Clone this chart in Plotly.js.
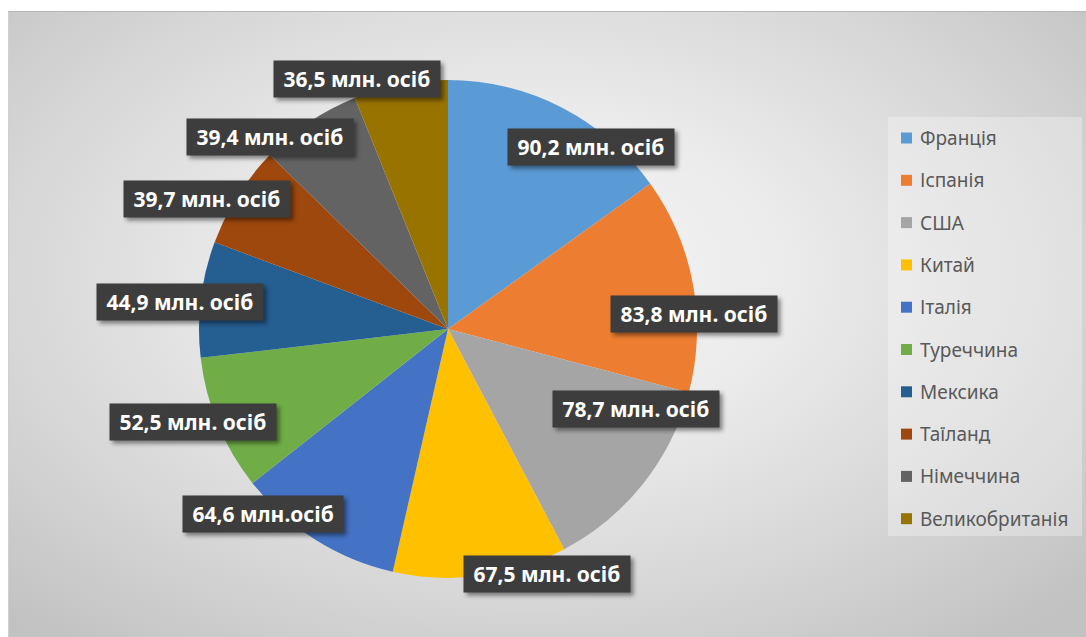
<!DOCTYPE html>
<html>
<head>
<meta charset="utf-8">
<script src="https://cdn.plot.ly/plotly-3.0.1.min.js"></script>
<style>
  html, body { margin: 0; padding: 0; background: #ffffff; }
  #wrap { position: relative; width: 1086px; height: 637px; overflow: hidden; }
  #bg {
    position: absolute; left: 8px; top: 11px; width: 1078px; height: 626px;
    background: radial-gradient(ellipse 70% 75% at 48% 42%, #f6f6f6 0%, #ebebeb 35%, #d6d6d6 70%, #c2c2c2 100%);
    border-top: 1px solid #b8b8b8; border-left: 1px solid #d0d0d0;
  }
  #chart { position: absolute; left: 0; top: 0; width: 1086px; height: 637px; }
  .annotation-text-g rect.bg { filter: drop-shadow(3px 3px 2px rgba(0,0,0,0.45)); }
</style>
</head>
<body>
<div id="wrap">
  <div id="bg"></div>
  <div id="chart"></div>
</div>
<script>
// ---- data ----
const categories = ['Франція', 'Іспанія', 'США', 'Китай', 'Італія', 'Туреччина', 'Мексика', 'Таїланд', 'Німеччина', 'Великобританія'];
const visitors = [90.2, 83.8, 78.7, 67.5, 64.6, 52.5, 44.9, 39.7, 39.4, 36.5];
const valueLabels = ['90,2 млн. осіб', '83,8 млн. осіб', '78,7 млн. осіб', '67,5 млн. осіб', '64,6 млн.осіб', '52,5 млн. осіб', '44,9 млн. осіб', '39,7 млн. осіб', '39,4 млн. осіб', '36,5 млн. осіб'];

// ---- styles ----
const colors = ['#5B9BD5', '#ED7D31', '#A5A5A5', '#FFC000', '#4472C4', '#70AD47', '#255E91', '#9E480E', '#636363', '#997300'];
// label placement: [radius factor, angle shift in degrees] (Excel "best fit" look)
const labelPlacement = [[0.93, 11], [0.99, 7], [0.82, -15.5], [1.06, -14.5], [1.05, 12.7], [1.09, 2.5], [1.08, -1], [1.10, -4], [1.05, -9], [1.07, -9]];

const W = 1086, H = 637;
const cx = 448, cy = 329, R = 249;

const total = visitors.reduce((a, b) => a + b, 0);
const annotations = [];
const shapes = [];

let cum = 0;
visitors.forEach((v, i) => {
  const mid = (cum + v / 2) / total * 360 + labelPlacement[i][1];
  cum += v;
  const rad = mid * Math.PI / 180;
  const r = labelPlacement[i][0] * R;
  const px = cx + r * Math.sin(rad);
  const py = cy - r * Math.cos(rad);
  annotations.push({
    xref: 'paper', yref: 'paper', x: px / W, y: 1 - py / H,
    xanchor: 'center', yanchor: 'middle', showarrow: false,
    text: '\u00a0' + valueLabels[i] + '\u00a0',
    font: { family: 'Noto Sans, DejaVu Sans, sans-serif', size: 21, color: '#ffffff', weight: 'bold' },
    bgcolor: '#3d3d3d', borderpad: 4
  });
});

// legend (manual to match spacing)
const legX0 = 888, legX1 = 1082, legY0 = 117, legY1 = 536;
shapes.push({
  type: 'rect', xref: 'paper', yref: 'paper', layer: 'below',
  x0: legX0 / W, x1: legX1 / W, y0: 1 - legY1 / H, y1: 1 - legY0 / H,
  fillcolor: 'rgba(255,255,255,0.3)', line: { width: 0 }
});
categories.forEach((c, i) => {
  const y = 138 + i * 42.3;
  shapes.push({
    type: 'rect', xref: 'paper', yref: 'paper',
    x0: 901 / W, x1: 912 / W, y0: 1 - (y + 5.5) / H, y1: 1 - (y - 5.5) / H,
    fillcolor: colors[i], line: { width: 0 }
  });
  annotations.push({
    xref: 'paper', yref: 'paper', x: 918 / W, y: 1 - y / H,
    xanchor: 'left', yanchor: 'middle', showarrow: false,
    text: c, font: { family: 'Noto Sans, DejaVu Sans, sans-serif', size: 19, color: '#595959' }
  });
});

const trace = {
  type: 'pie',
  labels: categories,
  values: visitors,
  sort: false,
  direction: 'clockwise',
  rotation: 0,
  marker: { colors: colors, line: { width: 0 } },
  textinfo: 'none',
  hoverinfo: 'label+value',
  showlegend: false,
  domain: { x: [(cx - R) / W, (cx + R) / W], y: [1 - (cy + R) / H, 1 - (cy - R) / H] }
};

const layout = {
  width: W, height: H,
  margin: { l: 0, r: 0, t: 0, b: 0 },
  paper_bgcolor: 'rgba(0,0,0,0)',
  plot_bgcolor: 'rgba(0,0,0,0)',
  showlegend: false,
  annotations: annotations,
  shapes: shapes
};

Plotly.newPlot('chart', [trace], layout, { displayModeBar: false, staticPlot: true });
</script>
</body>
</html>
